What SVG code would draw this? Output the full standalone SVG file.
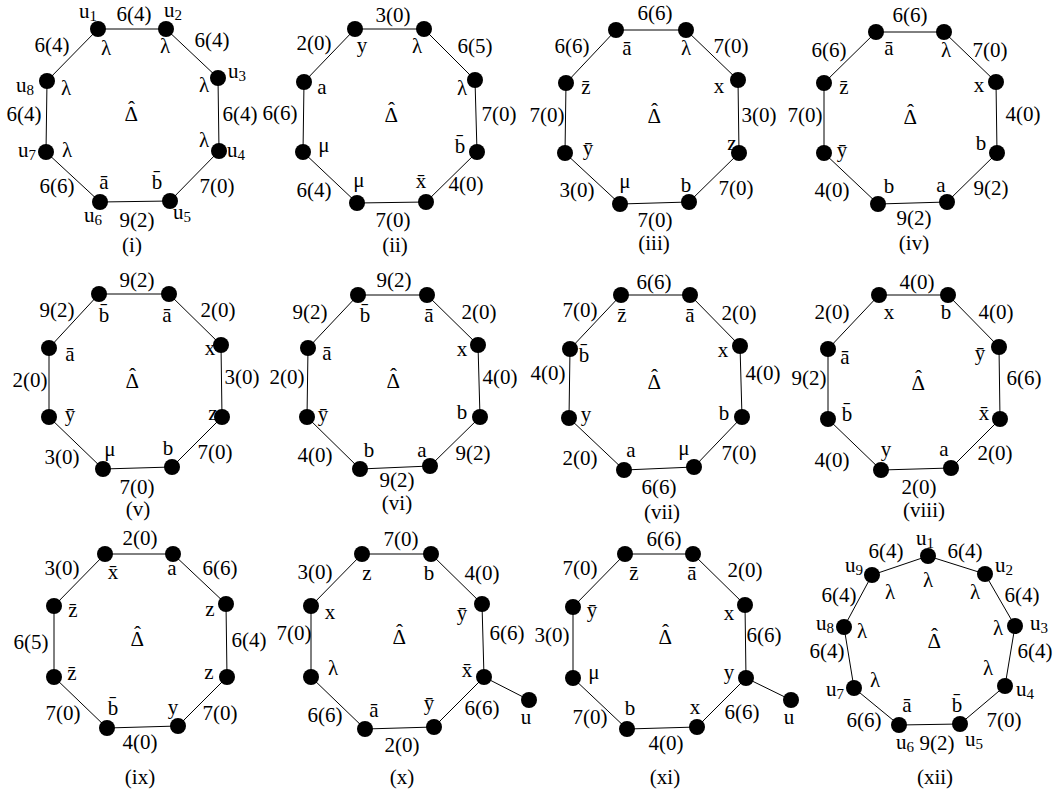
<svg xmlns="http://www.w3.org/2000/svg" width="1059" height="794" viewBox="0 0 1059 794">
<style>
text{font-family:"Liberation Serif","Times New Roman",serif;font-size:21px;text-anchor:middle;fill:#000}
.s{font-size:15px}
text.D{text-anchor:start}
.e{fill:none;stroke:#000;stroke-width:1}
.n{fill:#000}
</style>
<rect width="1059" height="794" fill="#fff"/>
<g id="connectors">
<polygon class="e" points="98,29 166,29 218,78 219,151 170,201 100,202 46,152 47,81"/>
<polygon class="e" points="355,29 424,29 475,80 477,152 426,202 357,203 303,152 304,82"/>
<polygon class="e" points="616,30 686,30 738,80 739,153 689,202 620,204 565,153 566,83"/>
<polygon class="e" points="876,32 944,32 996,82 997,153 947,202 878,204 824,153 824,83"/>
<polygon class="e" points="99,294 169,294 221,345 222,417 172,467 103,469 49,417 49,348"/>
<polygon class="e" points="358,295 427,295 478,345 480,417 430,466 360,469 307,417 308,348"/>
<polygon class="e" points="621,295 690,295 740,346 742,417 694,467 624,470 569,418 570,349"/>
<polygon class="e" points="879,295 948,295 999,347 1000,419 951,468 881,470 828,419 828,349"/>
<polygon class="e" points="105,554 173,554 226,604 227,677 178,726 107,728 54,677 54,606"/>
<polygon class="e" points="362,554 431,554 482,604 484,677 434,727 365,729 311,677 311,606"/>
<line class="e" x1="484" y1="677" x2="529" y2="700"/>
<polygon class="e" points="625,554 693,554 745,605 746,678 697,727 627,729 573,678 573,607"/>
<line class="e" x1="746" y1="678" x2="791" y2="700"/>
<polygon class="e" points="928,556 985,574 1015,626 1005,686 960,724 899,725 854,688 844,627 872,575"/>
</g>
<g id="nodes">
<g id="i-1"><circle class="n" cx="98" cy="29" r="8"/></g><g id="i-2"><circle class="n" cx="166" cy="29" r="8"/></g><g id="i-3"><circle class="n" cx="218" cy="78" r="8"/></g><g id="i-4"><circle class="n" cx="219" cy="151" r="8"/></g><g id="i-5"><circle class="n" cx="170" cy="201" r="8"/></g><g id="i-6"><circle class="n" cx="100" cy="202" r="8"/></g><g id="i-7"><circle class="n" cx="46" cy="152" r="8"/></g><g id="i-8"><circle class="n" cx="47" cy="81" r="8"/></g>
<g id="ii-1"><circle class="n" cx="355" cy="29" r="8"/></g><g id="ii-2"><circle class="n" cx="424" cy="29" r="8"/></g><g id="ii-3"><circle class="n" cx="475" cy="80" r="8"/></g><g id="ii-4"><circle class="n" cx="477" cy="152" r="8"/></g><g id="ii-5"><circle class="n" cx="426" cy="202" r="8"/></g><g id="ii-6"><circle class="n" cx="357" cy="203" r="8"/></g><g id="ii-7"><circle class="n" cx="303" cy="152" r="8"/></g><g id="ii-8"><circle class="n" cx="304" cy="82" r="8"/></g>
<g id="iii-1"><circle class="n" cx="616" cy="30" r="8"/></g><g id="iii-2"><circle class="n" cx="686" cy="30" r="8"/></g><g id="iii-3"><circle class="n" cx="738" cy="80" r="8"/></g><g id="iii-4"><circle class="n" cx="739" cy="153" r="8"/></g><g id="iii-5"><circle class="n" cx="689" cy="202" r="8"/></g><g id="iii-6"><circle class="n" cx="620" cy="204" r="8"/></g><g id="iii-7"><circle class="n" cx="565" cy="153" r="8"/></g><g id="iii-8"><circle class="n" cx="566" cy="83" r="8"/></g>
<g id="iv-1"><circle class="n" cx="876" cy="32" r="8"/></g><g id="iv-2"><circle class="n" cx="944" cy="32" r="8"/></g><g id="iv-3"><circle class="n" cx="996" cy="82" r="8"/></g><g id="iv-4"><circle class="n" cx="997" cy="153" r="8"/></g><g id="iv-5"><circle class="n" cx="947" cy="202" r="8"/></g><g id="iv-6"><circle class="n" cx="878" cy="204" r="8"/></g><g id="iv-7"><circle class="n" cx="824" cy="153" r="8"/></g><g id="iv-8"><circle class="n" cx="824" cy="83" r="8"/></g>
<g id="v-1"><circle class="n" cx="99" cy="294" r="8"/></g><g id="v-2"><circle class="n" cx="169" cy="294" r="8"/></g><g id="v-3"><circle class="n" cx="221" cy="345" r="8"/></g><g id="v-4"><circle class="n" cx="222" cy="417" r="8"/></g><g id="v-5"><circle class="n" cx="172" cy="467" r="8"/></g><g id="v-6"><circle class="n" cx="103" cy="469" r="8"/></g><g id="v-7"><circle class="n" cx="49" cy="417" r="8"/></g><g id="v-8"><circle class="n" cx="49" cy="348" r="8"/></g>
<g id="vi-1"><circle class="n" cx="358" cy="295" r="8"/></g><g id="vi-2"><circle class="n" cx="427" cy="295" r="8"/></g><g id="vi-3"><circle class="n" cx="478" cy="345" r="8"/></g><g id="vi-4"><circle class="n" cx="480" cy="417" r="8"/></g><g id="vi-5"><circle class="n" cx="430" cy="466" r="8"/></g><g id="vi-6"><circle class="n" cx="360" cy="469" r="8"/></g><g id="vi-7"><circle class="n" cx="307" cy="417" r="8"/></g><g id="vi-8"><circle class="n" cx="308" cy="348" r="8"/></g>
<g id="vii-1"><circle class="n" cx="621" cy="295" r="8"/></g><g id="vii-2"><circle class="n" cx="690" cy="295" r="8"/></g><g id="vii-3"><circle class="n" cx="740" cy="346" r="8"/></g><g id="vii-4"><circle class="n" cx="742" cy="417" r="8"/></g><g id="vii-5"><circle class="n" cx="694" cy="467" r="8"/></g><g id="vii-6"><circle class="n" cx="624" cy="470" r="8"/></g><g id="vii-7"><circle class="n" cx="569" cy="418" r="8"/></g><g id="vii-8"><circle class="n" cx="570" cy="349" r="8"/></g>
<g id="viii-1"><circle class="n" cx="879" cy="295" r="8"/></g><g id="viii-2"><circle class="n" cx="948" cy="295" r="8"/></g><g id="viii-3"><circle class="n" cx="999" cy="347" r="8"/></g><g id="viii-4"><circle class="n" cx="1000" cy="419" r="8"/></g><g id="viii-5"><circle class="n" cx="951" cy="468" r="8"/></g><g id="viii-6"><circle class="n" cx="881" cy="470" r="8"/></g><g id="viii-7"><circle class="n" cx="828" cy="419" r="8"/></g><g id="viii-8"><circle class="n" cx="828" cy="349" r="8"/></g>
<g id="ix-1"><circle class="n" cx="105" cy="554" r="8"/></g><g id="ix-2"><circle class="n" cx="173" cy="554" r="8"/></g><g id="ix-3"><circle class="n" cx="226" cy="604" r="8"/></g><g id="ix-4"><circle class="n" cx="227" cy="677" r="8"/></g><g id="ix-5"><circle class="n" cx="178" cy="726" r="8"/></g><g id="ix-6"><circle class="n" cx="107" cy="728" r="8"/></g><g id="ix-7"><circle class="n" cx="54" cy="677" r="8"/></g><g id="ix-8"><circle class="n" cx="54" cy="606" r="8"/></g>
<g id="x-1"><circle class="n" cx="362" cy="554" r="8"/></g><g id="x-2"><circle class="n" cx="431" cy="554" r="8"/></g><g id="x-3"><circle class="n" cx="482" cy="604" r="8"/></g><g id="x-4"><circle class="n" cx="484" cy="677" r="8"/></g><g id="x-5"><circle class="n" cx="434" cy="727" r="8"/></g><g id="x-6"><circle class="n" cx="365" cy="729" r="8"/></g><g id="x-7"><circle class="n" cx="311" cy="677" r="8"/></g><g id="x-8"><circle class="n" cx="311" cy="606" r="8"/></g><g id="x-u"><circle class="n" cx="529" cy="700" r="8"/></g>
<g id="xi-1"><circle class="n" cx="625" cy="554" r="8"/></g><g id="xi-2"><circle class="n" cx="693" cy="554" r="8"/></g><g id="xi-3"><circle class="n" cx="745" cy="605" r="8"/></g><g id="xi-4"><circle class="n" cx="746" cy="678" r="8"/></g><g id="xi-5"><circle class="n" cx="697" cy="727" r="8"/></g><g id="xi-6"><circle class="n" cx="627" cy="729" r="8"/></g><g id="xi-7"><circle class="n" cx="573" cy="678" r="8"/></g><g id="xi-8"><circle class="n" cx="573" cy="607" r="8"/></g><g id="xi-u"><circle class="n" cx="791" cy="700" r="8"/></g>
<g id="xii-1"><circle class="n" cx="928" cy="556" r="8"/></g><g id="xii-2"><circle class="n" cx="985" cy="574" r="8"/></g><g id="xii-3"><circle class="n" cx="1015" cy="626" r="8"/></g><g id="xii-4"><circle class="n" cx="1005" cy="686" r="8"/></g><g id="xii-5"><circle class="n" cx="960" cy="724" r="8"/></g><g id="xii-6"><circle class="n" cx="899" cy="725" r="8"/></g><g id="xii-7"><circle class="n" cx="854" cy="688" r="8"/></g><g id="xii-8"><circle class="n" cx="844" cy="627" r="8"/></g><g id="xii-9"><circle class="n" cx="872" cy="575" r="8"/></g>
</g>
<g id="labels">
<!-- i -->
<text x="88" y="18">u<tspan class="s" dy="3">1</tspan></text>
<text x="134" y="21">6(4)</text>
<text x="173" y="17">u<tspan class="s" dy="3">2</tspan></text>
<text x="52" y="52">6(4)</text>
<text x="212" y="47">6(4)</text>
<text x="106" y="55">λ</text><text x="165" y="53">λ</text>
<text x="25" y="92">u<tspan class="s" dy="3">8</tspan></text>
<text x="66" y="95">λ</text>
<text x="237" y="78">u<tspan class="s" dy="3">3</tspan></text>
<text x="204" y="92">λ</text>
<text x="240" y="121">6(4)</text>
<text x="24" y="121">6(4)</text>
<text x="204" y="147">λ</text>
<text x="236" y="157">u<tspan class="s" dy="3">4</tspan></text>
<text x="67" y="157">λ</text>
<text x="27" y="157">u<tspan class="s" dy="3">7</tspan></text>
<text x="57" y="193">6(6)</text>
<text x="104" y="189">ā</text>
<text x="157" y="189">b̄</text>
<text x="217" y="193">7(0)</text>
<text x="93" y="222">u<tspan class="s" dy="3">6</tspan></text>
<text x="137" y="227">9(2)</text>
<text x="182" y="219">u<tspan class="s" dy="3">5</tspan></text>
<text x="132" y="252">(i)</text>
<text class="D" x="124.6" y="121">Δ<tspan dx="-10" dy="-5">ˆ</tspan></text>
<!-- ii -->
<text x="393" y="22">3(0)</text>
<text x="314" y="50">2(0)</text>
<text x="362" y="52">y</text>
<text x="417" y="53">λ</text>
<text x="475" y="53">6(5)</text>
<text x="322" y="94">a</text>
<text x="462" y="95">λ</text>
<text x="280" y="120">6(6)</text>
<text x="499" y="121">7(0)</text>
<text x="324" y="152">μ</text>
<text x="460" y="153">b̄</text>
<text x="314" y="197">6(4)</text>
<text x="359" y="187">μ</text>
<text x="421" y="188">x̄</text>
<text x="466" y="191">4(0)</text>
<text x="393" y="227">7(0)</text>
<text x="395" y="252">(ii)</text>
<text class="D" x="384.6" y="122">Δ<tspan dx="-10" dy="-5">ˆ</tspan></text>
<!-- iii -->
<text x="655" y="20">6(6)</text>
<text x="572" y="53">6(6)</text>
<text x="627" y="55">ā</text>
<text x="686" y="55">λ</text>
<text x="731" y="53">7(0)</text>
<text x="586" y="94">z̄</text>
<text x="719" y="93">x</text>
<text x="547" y="122">7(0)</text>
<text x="759" y="122">3(0)</text>
<text x="588" y="155">ȳ</text>
<text x="732" y="150">z</text>
<text x="577" y="197">3(0)</text>
<text x="625" y="188">μ</text>
<text x="686" y="192">b</text>
<text x="736" y="195">7(0)</text>
<text x="655" y="227">7(0)</text>
<text x="654" y="250">(iii)</text>
<text class="D" x="647.6" y="123">Δ<tspan dx="-10" dy="-5">ˆ</tspan></text>
<!-- iv -->
<text x="910" y="22">6(6)</text>
<text x="829" y="57">6(6)</text>
<text x="889" y="55">ā</text>
<text x="946" y="57">λ</text>
<text x="990" y="57">7(0)</text>
<text x="844" y="94">z̄</text>
<text x="979" y="92">x</text>
<text x="805" y="122">7(0)</text>
<text x="1023" y="121">4(0)</text>
<text x="842" y="157">ȳ</text>
<text x="981" y="150">b</text>
<text x="832" y="197">4(0)</text>
<text x="889" y="193">b</text>
<text x="941" y="192">a</text>
<text x="991" y="195">9(2)</text>
<text x="914" y="225">9(2)</text>
<text x="914" y="250">(iv)</text>
<text class="D" x="903.6" y="124">Δ<tspan dx="-10" dy="-5">ˆ</tspan></text>
<!-- v -->
<text x="137" y="287">9(2)</text>
<text x="57" y="317">9(2)</text>
<text x="104" y="322">b̄</text>
<text x="167" y="322">ā</text>
<text x="218" y="317">2(0)</text>
<text x="70" y="361">ā</text>
<text x="210" y="355">x</text>
<text x="30" y="387">2(0)</text>
<text x="242" y="384">3(0)</text>
<text x="70" y="421">ȳ</text>
<text x="213" y="420">z</text>
<text x="62" y="464">3(0)</text>
<text x="110" y="456">μ</text>
<text x="168" y="455">b</text>
<text x="215" y="459">7(0)</text>
<text x="137" y="494">7(0)</text>
<text x="138" y="516">(v)</text>
<text class="D" x="125.6" y="388">Δ<tspan dx="-10" dy="-5">ˆ</tspan></text>
<!-- vi -->
<text x="394" y="287">9(2)</text>
<text x="310" y="319">9(2)</text>
<text x="365" y="322">b̄</text>
<text x="429" y="322">ā</text>
<text x="479" y="319">2(0)</text>
<text x="327" y="360">ā</text>
<text x="462" y="356">x</text>
<text x="287" y="384">2(0)</text>
<text x="500" y="384">4(0)</text>
<text x="323" y="421">ȳ</text>
<text x="462" y="419">b</text>
<text x="315" y="462">4(0)</text>
<text x="369" y="457">b</text>
<text x="422" y="457">a</text>
<text x="473" y="460">9(2)</text>
<text x="397" y="487">9(2)</text>
<text x="397" y="510">(vi)</text>
<text class="D" x="386.6" y="388">Δ<tspan dx="-10" dy="-5">ˆ</tspan></text>
<!-- vii -->
<text x="654" y="289">6(6)</text>
<text x="580" y="317">7(0)</text>
<text x="622" y="322">z̄</text>
<text x="690" y="322">ā</text>
<text x="739" y="320">2(0)</text>
<text x="584" y="362">b̄</text>
<text x="723" y="357">x</text>
<text x="548" y="380">4(0)</text>
<text x="763" y="380">4(0)</text>
<text x="586" y="421">y</text>
<text x="724" y="420">b</text>
<text x="580" y="465">2(0)</text>
<text x="631" y="457">a</text>
<text x="684" y="455">μ</text>
<text x="739" y="460">7(0)</text>
<text x="659" y="494">6(6)</text>
<text x="662" y="519">(vii)</text>
<text class="D" x="647.6" y="389">Δ<tspan dx="-10" dy="-5">ˆ</tspan></text>
<!-- viii -->
<text x="917" y="289">4(0)</text>
<text x="832" y="319">2(0)</text>
<text x="889" y="319">x</text>
<text x="946" y="319">b</text>
<text x="996" y="319">4(0)</text>
<text x="845" y="364">ā</text>
<text x="980" y="360">ȳ</text>
<text x="809" y="385">9(2)</text>
<text x="1024" y="385">6(6)</text>
<text x="847" y="421">b̄</text>
<text x="984" y="420">x̄</text>
<text x="832" y="467">4(0)</text>
<text x="886" y="456">y</text>
<text x="944" y="456">a</text>
<text x="995" y="460">2(0)</text>
<text x="919" y="494">2(0)</text>
<text x="924" y="517">(viii)</text>
<text class="D" x="911.6" y="390">Δ<tspan dx="-10" dy="-5">ˆ</tspan></text>
<!-- ix -->
<text x="140" y="545">2(0)</text>
<text x="62" y="575">3(0)</text>
<text x="113" y="579">x̄</text>
<text x="172" y="575">a</text>
<text x="220" y="575">6(6)</text>
<text x="73" y="617">z̄</text>
<text x="210" y="616">z</text>
<text x="31" y="649">6(5)</text>
<text x="249" y="647">6(4)</text>
<text x="72" y="680">z̄</text>
<text x="209" y="679">z</text>
<text x="63" y="720">7(0)</text>
<text x="113" y="715">b̄</text>
<text x="173" y="714">y</text>
<text x="220" y="720">7(0)</text>
<text x="140" y="749">4(0)</text>
<text x="140" y="784">(ix)</text>
<text class="D" x="130.6" y="646">Δ<tspan dx="-10" dy="-5">ˆ</tspan></text>
<!-- x -->
<text x="401" y="546">7(0)</text>
<text x="315" y="579">3(0)</text>
<text x="367" y="580">z</text>
<text x="429" y="580">b</text>
<text x="482" y="580">4(0)</text>
<text x="330" y="619">x</text>
<text x="462" y="620">ȳ</text>
<text x="294" y="640">7(0)</text>
<text x="507" y="640">6(6)</text>
<text x="333" y="675">λ</text>
<text x="467" y="677">x̄</text>
<text x="325" y="722">6(6)</text>
<text x="374" y="717">ā</text>
<text x="429" y="710">ȳ</text>
<text x="482" y="715">6(6)</text>
<text x="526" y="724">u</text>
<text x="402" y="752">2(0)</text>
<text x="402" y="784">(x)</text>
<text class="D" x="392.6" y="644">Δ<tspan dx="-10" dy="-5">ˆ</tspan></text>
<!-- xi -->
<text x="664" y="546">6(6)</text>
<text x="580" y="575">7(0)</text>
<text x="634" y="580">z̄</text>
<text x="692" y="580">ā</text>
<text x="745" y="577">2(0)</text>
<text x="592" y="617">ȳ</text>
<text x="729" y="620">x</text>
<text x="552" y="642">3(0)</text>
<text x="764" y="642">6(6)</text>
<text x="594" y="679">μ</text>
<text x="729" y="679">y</text>
<text x="590" y="724">7(0)</text>
<text x="630" y="715">b</text>
<text x="695" y="714">x</text>
<text x="742" y="719">6(6)</text>
<text x="789" y="724">u</text>
<text x="666" y="750">4(0)</text>
<text x="665" y="784">(xi)</text>
<text class="D" x="658.6" y="644">Δ<tspan dx="-10" dy="-5">ˆ</tspan></text>
<!-- xii -->
<text x="925" y="545">u<tspan class="s" dy="3">1</tspan></text>
<text x="886" y="558">6(4)</text>
<text x="965" y="558">6(4)</text>
<text x="854" y="572">u<tspan class="s" dy="3">9</tspan></text>
<text x="1004" y="572">u<tspan class="s" dy="3">2</tspan></text>
<text x="928" y="587">λ</text>
<text x="890" y="599">λ</text>
<text x="975" y="599">λ</text>
<text x="839" y="602">6(4)</text>
<text x="1022" y="602">6(4)</text>
<text x="825" y="630">u<tspan class="s" dy="3">8</tspan></text>
<text x="862" y="638">λ</text>
<text x="998" y="635">λ</text>
<text x="1039" y="630">u<tspan class="s" dy="3">3</tspan></text>
<text x="827" y="658">6(4)</text>
<text x="1035" y="658">6(4)</text>
<text x="988" y="675">λ</text>
<text x="875" y="687">λ</text>
<text x="835" y="696">u<tspan class="s" dy="3">7</tspan></text>
<text x="1025" y="696">u<tspan class="s" dy="3">4</tspan></text>
<text x="907" y="712">ā</text>
<text x="957" y="712">b̄</text>
<text x="864" y="727">6(6)</text>
<text x="1004" y="727">7(0)</text>
<text x="905" y="749">u<tspan class="s" dy="3">6</tspan></text>
<text x="937" y="750">9(2)</text>
<text x="974" y="746">u<tspan class="s" dy="3">5</tspan></text>
<text x="935" y="784">(xii)</text>
<text class="D" x="927.6" y="648">Δ<tspan dx="-10" dy="-5">ˆ</tspan></text>
</g>
</svg>
